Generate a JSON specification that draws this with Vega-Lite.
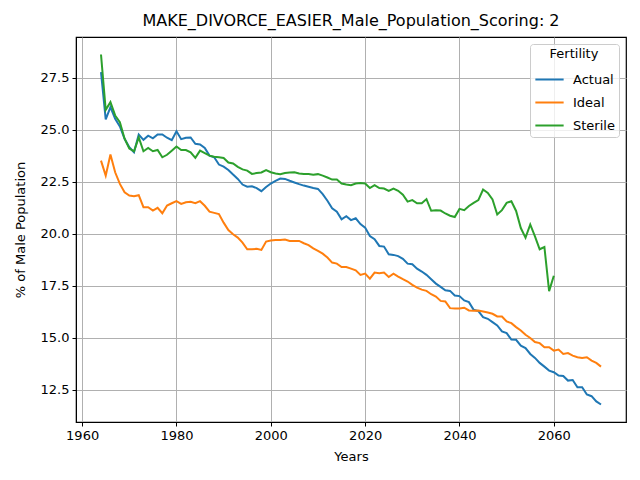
{
  "$schema": "https://vega.github.io/schema/vega-lite/v6.json",
  "width": 550,
  "height": 385,
  "autosize": {"type": "none"},
  "padding": {"left": 76, "top": 37, "right": 14, "bottom": 58},
  "background": "white",
  "title": {"text": "MAKE_DIVORCE_EASIER_Male_Population_Scoring: 2", "fontSize": 16, "fontWeight": "normal", "color": "black", "offset": 8, "font": "DejaVu Sans"},
  "config": {
    "font": "DejaVu Sans",
    "view": {"stroke": "black", "strokeWidth": 1.2},
    "axis": {
      "domainColor": "black", "tickColor": "black", "labelColor": "black", "titleColor": "black",
      "labelFontSize": 13, "titleFontSize": 13, "titleFontWeight": "normal",
      "gridColor": "#b0b0b0", "gridWidth": 1, "tickSize": 4, "labelPadding": 3
    },
    "legend": {
      "orient": "top-right", "offset": 7, "padding": 4, "strokeColor": "#cccccc", "fillColor": "rgba(255,255,255,0.8)",
      "cornerRadius": 3, "titleFontSize": 13, "titleFontWeight": "normal", "titleAnchor": "middle", "titleColor": "black",
      "labelFontSize": 13, "labelColor": "black", "symbolType": "stroke", "symbolSize": 800, "symbolStrokeWidth": 2,
      "rowPadding": -8, "titlePadding": 3, "labelOffset": 8
    }
  },
  "data": {
    "values": [
      {"year":1964,"series":"Actual","value":27.77},{"year":1965,"series":"Actual","value":25.5},{"year":1966,"series":"Actual","value":26.09},{"year":1967,"series":"Actual","value":25.53},{"year":1968,"series":"Actual","value":25.16},{"year":1969,"series":"Actual","value":24.57},{"year":1970,"series":"Actual","value":24.16},{"year":1971,"series":"Actual","value":23.92},{"year":1972,"series":"Actual","value":24.77},{"year":1973,"series":"Actual","value":24.52},{"year":1974,"series":"Actual","value":24.72},{"year":1975,"series":"Actual","value":24.59},{"year":1976,"series":"Actual","value":24.78},{"year":1977,"series":"Actual","value":24.78},{"year":1978,"series":"Actual","value":24.62},{"year":1979,"series":"Actual","value":24.5},{"year":1980,"series":"Actual","value":24.93},{"year":1981,"series":"Actual","value":24.55},{"year":1982,"series":"Actual","value":24.62},{"year":1983,"series":"Actual","value":24.63},{"year":1984,"series":"Actual","value":24.33},{"year":1985,"series":"Actual","value":24.3},{"year":1986,"series":"Actual","value":24.13},{"year":1987,"series":"Actual","value":23.76},{"year":1988,"series":"Actual","value":23.68},{"year":1989,"series":"Actual","value":23.33},{"year":1990,"series":"Actual","value":23.23},{"year":1991,"series":"Actual","value":23.07},{"year":1992,"series":"Actual","value":22.85},{"year":1993,"series":"Actual","value":22.64},{"year":1994,"series":"Actual","value":22.37},{"year":1995,"series":"Actual","value":22.27},{"year":1996,"series":"Actual","value":22.29},{"year":1997,"series":"Actual","value":22.2},{"year":1998,"series":"Actual","value":22.05},{"year":1999,"series":"Actual","value":22.25},{"year":2000,"series":"Actual","value":22.42},{"year":2001,"series":"Actual","value":22.55},{"year":2002,"series":"Actual","value":22.66},{"year":2003,"series":"Actual","value":22.64},{"year":2004,"series":"Actual","value":22.55},{"year":2005,"series":"Actual","value":22.47},{"year":2006,"series":"Actual","value":22.39},{"year":2007,"series":"Actual","value":22.32},{"year":2008,"series":"Actual","value":22.26},{"year":2009,"series":"Actual","value":22.2},{"year":2010,"series":"Actual","value":22.16},{"year":2011,"series":"Actual","value":21.91},{"year":2012,"series":"Actual","value":21.59},{"year":2013,"series":"Actual","value":21.23},{"year":2014,"series":"Actual","value":21.06},{"year":2015,"series":"Actual","value":20.7},{"year":2016,"series":"Actual","value":20.85},{"year":2017,"series":"Actual","value":20.66},{"year":2018,"series":"Actual","value":20.75},{"year":2019,"series":"Actual","value":20.47},{"year":2020,"series":"Actual","value":20.3},{"year":2021,"series":"Actual","value":19.9},{"year":2022,"series":"Actual","value":19.74},{"year":2023,"series":"Actual","value":19.42},{"year":2024,"series":"Actual","value":19.39},{"year":2025,"series":"Actual","value":19.02},{"year":2026,"series":"Actual","value":18.99},{"year":2027,"series":"Actual","value":18.93},{"year":2028,"series":"Actual","value":18.8},{"year":2029,"series":"Actual","value":18.57},{"year":2030,"series":"Actual","value":18.54},{"year":2031,"series":"Actual","value":18.33},{"year":2032,"series":"Actual","value":18.19},{"year":2033,"series":"Actual","value":18.03},{"year":2034,"series":"Actual","value":17.82},{"year":2035,"series":"Actual","value":17.61},{"year":2036,"series":"Actual","value":17.45},{"year":2037,"series":"Actual","value":17.29},{"year":2038,"series":"Actual","value":17.26},{"year":2039,"series":"Actual","value":17.04},{"year":2040,"series":"Actual","value":17.01},{"year":2041,"series":"Actual","value":16.8},{"year":2042,"series":"Actual","value":16.72},{"year":2043,"series":"Actual","value":16.35},{"year":2044,"series":"Actual","value":16.29},{"year":2045,"series":"Actual","value":16.0},{"year":2046,"series":"Actual","value":15.92},{"year":2047,"series":"Actual","value":15.76},{"year":2048,"series":"Actual","value":15.6},{"year":2049,"series":"Actual","value":15.31},{"year":2050,"series":"Actual","value":15.23},{"year":2051,"series":"Actual","value":14.92},{"year":2052,"series":"Actual","value":14.91},{"year":2053,"series":"Actual","value":14.63},{"year":2054,"series":"Actual","value":14.51},{"year":2055,"series":"Actual","value":14.23},{"year":2056,"series":"Actual","value":14.04},{"year":2057,"series":"Actual","value":13.8},{"year":2058,"series":"Actual","value":13.62},{"year":2059,"series":"Actual","value":13.43},{"year":2060,"series":"Actual","value":13.35},{"year":2061,"series":"Actual","value":13.19},{"year":2062,"series":"Actual","value":13.17},{"year":2063,"series":"Actual","value":12.95},{"year":2064,"series":"Actual","value":12.98},{"year":2065,"series":"Actual","value":12.63},{"year":2066,"series":"Actual","value":12.63},{"year":2067,"series":"Actual","value":12.28},{"year":2068,"series":"Actual","value":12.2},{"year":2069,"series":"Actual","value":11.95},{"year":2070,"series":"Actual","value":11.8},
      {"year":1964,"series":"Ideal","value":23.52},{"year":1965,"series":"Ideal","value":22.8},{"year":1966,"series":"Ideal","value":23.81},{"year":1967,"series":"Ideal","value":22.96},{"year":1968,"series":"Ideal","value":22.4},{"year":1969,"series":"Ideal","value":22.0},{"year":1970,"series":"Ideal","value":21.84},{"year":1971,"series":"Ideal","value":21.81},{"year":1972,"series":"Ideal","value":21.86},{"year":1973,"series":"Ideal","value":21.28},{"year":1974,"series":"Ideal","value":21.28},{"year":1975,"series":"Ideal","value":21.12},{"year":1976,"series":"Ideal","value":21.25},{"year":1977,"series":"Ideal","value":20.99},{"year":1978,"series":"Ideal","value":21.36},{"year":1979,"series":"Ideal","value":21.47},{"year":1980,"series":"Ideal","value":21.57},{"year":1981,"series":"Ideal","value":21.44},{"year":1982,"series":"Ideal","value":21.52},{"year":1983,"series":"Ideal","value":21.54},{"year":1984,"series":"Ideal","value":21.47},{"year":1985,"series":"Ideal","value":21.57},{"year":1986,"series":"Ideal","value":21.35},{"year":1987,"series":"Ideal","value":21.07},{"year":1988,"series":"Ideal","value":21.01},{"year":1989,"series":"Ideal","value":20.95},{"year":1990,"series":"Ideal","value":20.54},{"year":1991,"series":"Ideal","value":20.18},{"year":1992,"series":"Ideal","value":19.98},{"year":1993,"series":"Ideal","value":19.82},{"year":1994,"series":"Ideal","value":19.58},{"year":1995,"series":"Ideal","value":19.26},{"year":1996,"series":"Ideal","value":19.26},{"year":1997,"series":"Ideal","value":19.28},{"year":1998,"series":"Ideal","value":19.23},{"year":1999,"series":"Ideal","value":19.63},{"year":2000,"series":"Ideal","value":19.68},{"year":2001,"series":"Ideal","value":19.71},{"year":2002,"series":"Ideal","value":19.71},{"year":2003,"series":"Ideal","value":19.73},{"year":2004,"series":"Ideal","value":19.66},{"year":2005,"series":"Ideal","value":19.66},{"year":2006,"series":"Ideal","value":19.66},{"year":2007,"series":"Ideal","value":19.55},{"year":2008,"series":"Ideal","value":19.46},{"year":2009,"series":"Ideal","value":19.3},{"year":2010,"series":"Ideal","value":19.18},{"year":2011,"series":"Ideal","value":19.05},{"year":2012,"series":"Ideal","value":18.86},{"year":2013,"series":"Ideal","value":18.62},{"year":2014,"series":"Ideal","value":18.57},{"year":2015,"series":"Ideal","value":18.41},{"year":2016,"series":"Ideal","value":18.41},{"year":2017,"series":"Ideal","value":18.33},{"year":2018,"series":"Ideal","value":18.25},{"year":2019,"series":"Ideal","value":18.03},{"year":2020,"series":"Ideal","value":18.09},{"year":2021,"series":"Ideal","value":17.85},{"year":2022,"series":"Ideal","value":18.14},{"year":2023,"series":"Ideal","value":18.11},{"year":2024,"series":"Ideal","value":18.14},{"year":2025,"series":"Ideal","value":17.93},{"year":2026,"series":"Ideal","value":18.09},{"year":2027,"series":"Ideal","value":17.95},{"year":2028,"series":"Ideal","value":17.82},{"year":2029,"series":"Ideal","value":17.71},{"year":2030,"series":"Ideal","value":17.55},{"year":2031,"series":"Ideal","value":17.42},{"year":2032,"series":"Ideal","value":17.32},{"year":2033,"series":"Ideal","value":17.26},{"year":2034,"series":"Ideal","value":17.1},{"year":2035,"series":"Ideal","value":16.99},{"year":2036,"series":"Ideal","value":16.78},{"year":2037,"series":"Ideal","value":16.75},{"year":2038,"series":"Ideal","value":16.43},{"year":2039,"series":"Ideal","value":16.41},{"year":2040,"series":"Ideal","value":16.41},{"year":2041,"series":"Ideal","value":16.45},{"year":2042,"series":"Ideal","value":16.32},{"year":2043,"series":"Ideal","value":16.3},{"year":2044,"series":"Ideal","value":16.32},{"year":2045,"series":"Ideal","value":16.27},{"year":2046,"series":"Ideal","value":16.22},{"year":2047,"series":"Ideal","value":16.16},{"year":2048,"series":"Ideal","value":16.03},{"year":2049,"series":"Ideal","value":16.03},{"year":2050,"series":"Ideal","value":15.79},{"year":2051,"series":"Ideal","value":15.71},{"year":2052,"series":"Ideal","value":15.52},{"year":2053,"series":"Ideal","value":15.36},{"year":2054,"series":"Ideal","value":15.15},{"year":2055,"series":"Ideal","value":15.0},{"year":2056,"series":"Ideal","value":14.8},{"year":2057,"series":"Ideal","value":14.75},{"year":2058,"series":"Ideal","value":14.55},{"year":2059,"series":"Ideal","value":14.55},{"year":2060,"series":"Ideal","value":14.39},{"year":2061,"series":"Ideal","value":14.44},{"year":2062,"series":"Ideal","value":14.23},{"year":2063,"series":"Ideal","value":14.27},{"year":2064,"series":"Ideal","value":14.15},{"year":2065,"series":"Ideal","value":14.07},{"year":2066,"series":"Ideal","value":14.04},{"year":2067,"series":"Ideal","value":14.07},{"year":2068,"series":"Ideal","value":13.91},{"year":2069,"series":"Ideal","value":13.8},{"year":2070,"series":"Ideal","value":13.62},
      {"year":1964,"series":"Sterile","value":28.62},{"year":1965,"series":"Sterile","value":25.96},{"year":1966,"series":"Sterile","value":26.33},{"year":1967,"series":"Sterile","value":25.69},{"year":1968,"series":"Sterile","value":25.37},{"year":1969,"series":"Sterile","value":24.57},{"year":1970,"series":"Sterile","value":24.1},{"year":1971,"series":"Sterile","value":23.97},{"year":1972,"series":"Sterile","value":24.64},{"year":1973,"series":"Sterile","value":23.97},{"year":1974,"series":"Sterile","value":24.13},{"year":1975,"series":"Sterile","value":23.97},{"year":1976,"series":"Sterile","value":24.03},{"year":1977,"series":"Sterile","value":23.68},{"year":1978,"series":"Sterile","value":23.8},{"year":1979,"series":"Sterile","value":24.0},{"year":1980,"series":"Sterile","value":24.2},{"year":1981,"series":"Sterile","value":24.03},{"year":1982,"series":"Sterile","value":24.03},{"year":1983,"series":"Sterile","value":23.92},{"year":1984,"series":"Sterile","value":23.65},{"year":1985,"series":"Sterile","value":24.0},{"year":1986,"series":"Sterile","value":23.88},{"year":1987,"series":"Sterile","value":23.76},{"year":1988,"series":"Sterile","value":23.71},{"year":1989,"series":"Sterile","value":23.68},{"year":1990,"series":"Sterile","value":23.65},{"year":1991,"series":"Sterile","value":23.43},{"year":1992,"series":"Sterile","value":23.38},{"year":1993,"series":"Sterile","value":23.22},{"year":1994,"series":"Sterile","value":23.1},{"year":1995,"series":"Sterile","value":23.04},{"year":1996,"series":"Sterile","value":22.88},{"year":1997,"series":"Sterile","value":22.92},{"year":1998,"series":"Sterile","value":22.95},{"year":1999,"series":"Sterile","value":23.06},{"year":2000,"series":"Sterile","value":22.96},{"year":2001,"series":"Sterile","value":22.9},{"year":2002,"series":"Sterile","value":22.87},{"year":2003,"series":"Sterile","value":22.92},{"year":2004,"series":"Sterile","value":22.95},{"year":2005,"series":"Sterile","value":22.96},{"year":2006,"series":"Sterile","value":22.9},{"year":2007,"series":"Sterile","value":22.88},{"year":2008,"series":"Sterile","value":22.88},{"year":2009,"series":"Sterile","value":22.84},{"year":2010,"series":"Sterile","value":22.87},{"year":2011,"series":"Sterile","value":22.8},{"year":2012,"series":"Sterile","value":22.71},{"year":2013,"series":"Sterile","value":22.61},{"year":2014,"series":"Sterile","value":22.61},{"year":2015,"series":"Sterile","value":22.42},{"year":2016,"series":"Sterile","value":22.37},{"year":2017,"series":"Sterile","value":22.34},{"year":2018,"series":"Sterile","value":22.42},{"year":2019,"series":"Sterile","value":22.45},{"year":2020,"series":"Sterile","value":22.42},{"year":2021,"series":"Sterile","value":22.2},{"year":2022,"series":"Sterile","value":22.34},{"year":2023,"series":"Sterile","value":22.2},{"year":2024,"series":"Sterile","value":22.18},{"year":2025,"series":"Sterile","value":22.07},{"year":2026,"series":"Sterile","value":22.18},{"year":2027,"series":"Sterile","value":22.07},{"year":2028,"series":"Sterile","value":21.88},{"year":2029,"series":"Sterile","value":21.55},{"year":2030,"series":"Sterile","value":21.62},{"year":2031,"series":"Sterile","value":21.47},{"year":2032,"series":"Sterile","value":21.47},{"year":2033,"series":"Sterile","value":21.67},{"year":2034,"series":"Sterile","value":21.11},{"year":2035,"series":"Sterile","value":21.14},{"year":2036,"series":"Sterile","value":21.12},{"year":2037,"series":"Sterile","value":20.98},{"year":2038,"series":"Sterile","value":20.87},{"year":2039,"series":"Sterile","value":20.81},{"year":2040,"series":"Sterile","value":21.2},{"year":2041,"series":"Sterile","value":21.14},{"year":2042,"series":"Sterile","value":21.34},{"year":2043,"series":"Sterile","value":21.49},{"year":2044,"series":"Sterile","value":21.62},{"year":2045,"series":"Sterile","value":22.13},{"year":2046,"series":"Sterile","value":21.97},{"year":2047,"series":"Sterile","value":21.65},{"year":2048,"series":"Sterile","value":20.93},{"year":2049,"series":"Sterile","value":21.14},{"year":2050,"series":"Sterile","value":21.49},{"year":2051,"series":"Sterile","value":21.57},{"year":2052,"series":"Sterile","value":21.1},{"year":2053,"series":"Sterile","value":20.28},{"year":2054,"series":"Sterile","value":19.82},{"year":2055,"series":"Sterile","value":20.45},{"year":2056,"series":"Sterile","value":19.88},{"year":2057,"series":"Sterile","value":19.26},{"year":2058,"series":"Sterile","value":19.37},{"year":2059,"series":"Sterile","value":17.25},{"year":2060,"series":"Sterile","value":17.99}
    ]
  },
  "mark": {"type": "line", "strokeWidth": 2},
  "encoding": {
    "x": {
      "field": "year",
      "type": "quantitative",
      "title": "Years",
      "scale": {"domain": [1958.7, 2075.3], "nice": false, "zero": false},
      "axis": {"values": [1960, 1980, 2000, 2020, 2040, 2060], "format": "d", "titlePadding": 8}
    },
    "y": {
      "field": "value",
      "type": "quantitative",
      "title": "% of Male Population",
      "scale": {"domain": [10.96, 29.46], "nice": false, "zero": false},
      "axis": {"values": [12.5, 15, 17.5, 20, 22.5, 25, 27.5], "format": ".1f", "titlePadding": 13}
    },
    "color": {
      "field": "series",
      "type": "nominal",
      "title": "Fertility",
      "scale": {"domain": ["Actual", "Ideal", "Sterile"], "range": ["#1f77b4", "#ff7f0e", "#2ca02c"]}
    }
  }
}
